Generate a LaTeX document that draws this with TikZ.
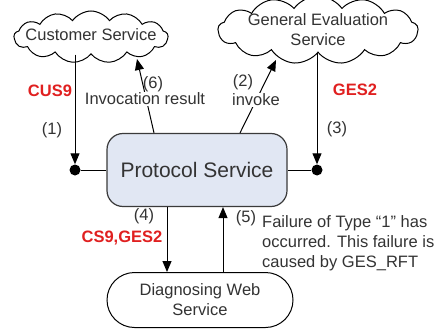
\documentclass[tikz,border=0pt]{standalone}
\usepackage{fontspec}
\setmainfont{Liberation Sans}
\usetikzlibrary{shapes.symbols,shapes.misc,arrows.meta}
\definecolor{boxfill}{HTML}{E1E7F3}
\definecolor{edge}{HTML}{3A3A3A}
\definecolor{tagred}{HTML}{E02020}
\tikzset{
  lbl/.style={font=\fontsize{16.5}{20}\selectfont, text=black!80, inner sep=1pt},
  redtag/.style={font=\fontsize{16.5}{20}\selectfont\bfseries, text=tagred, inner sep=1pt},
  cloudnode/.style={cloud, cloud puffs=13, cloud puff arc=110, cloud ignores aspect, draw=black, line width=1pt, fill=white, inner sep=0pt},
  conn/.style={draw=black, line width=1pt},
  arr/.style={conn, -{Triangle[length=11pt,width=9pt]}},
  junction/.style={circle, fill=black, minimum size=11pt, inner sep=0pt}
}
\begin{document}
\begin{tikzpicture}[x=1pt,y=-1pt]
\useasboundingbox (0,0) rectangle (438,329);

% services
\node[cloudnode, minimum width=154pt, minimum height=52pt] (cus) at (91,37) {};
\node[lbl] at (91,35) {Customer Service};
\node[cloudnode, minimum width=200pt, minimum height=68pt] (ges) at (318,30) {};
\node[lbl, align=center] at (318,30) {General Evaluation\\Service};

\node[draw=edge, line width=1.2pt, fill=boxfill, rounded corners=16pt,
      minimum width=180pt, minimum height=73pt, inner sep=0pt,
      font=\fontsize{21}{24}\selectfont, text=black!80] (ps) at (197,170) {Protocol Service};

\node[draw=black, line width=1pt, fill=white, rounded rectangle,
      minimum width=186pt, minimum height=55pt, inner sep=0pt, align=center,
      font=\fontsize{16.5}{20}\selectfont, text=black!80] (dws) at (200,300) {Diagnosing Web\\Service};

% junctions beside the protocol service
\node[junction] (jl) at (75,170) {};
\node[junction] (jr) at (317,170) {};

% incoming requests
\draw[arr] (cus.south -| jl) -- (jl.north);
\draw[conn] (jl) -- (ps.west);
\draw[arr] (ges.south -| jr) -- (jr.north);
\draw[conn] (jr) -- (ps.east);

% invocation and result
\coordinate (t6) at (137,59);
\coordinate (t2) at (276,60);
\draw[arr] (ps.north -| 154,0) -- (t6);
\draw[arr] (ps.north -| 240,0) -- (t2);

% diagnosis request and answer
\draw[arr] (ps.south -| 167,0) -- (dws.north -| 167,0);
\draw[arr] (dws.north -| 223,0) -- (ps.south -| 223,0);

% labels
\node[redtag] at (50,91) {CUS9};
\node[lbl] at (52,130) {(1)};
\node[lbl] at (153,84) {(6)};
\node[lbl, fill=white] at (145,99) {Invocation result};
\node[lbl] at (243,82) {(2)};
\node[lbl, fill=white] at (256,100) {invoke};
\node[redtag] at (355,90) {GES2};
\node[lbl] at (337,129) {(3)};
\node[lbl] at (144,216) {(4)};
\node[redtag] at (122,238) {CS9,GES2};
\node[lbl] at (246,218) {(5)};
\node[lbl, align=left, anchor=north west] at (261,214) {Failure of Type “1” has\\occurred. This failure is\\caused by GES\_RFT};
\end{tikzpicture}
\end{document}
